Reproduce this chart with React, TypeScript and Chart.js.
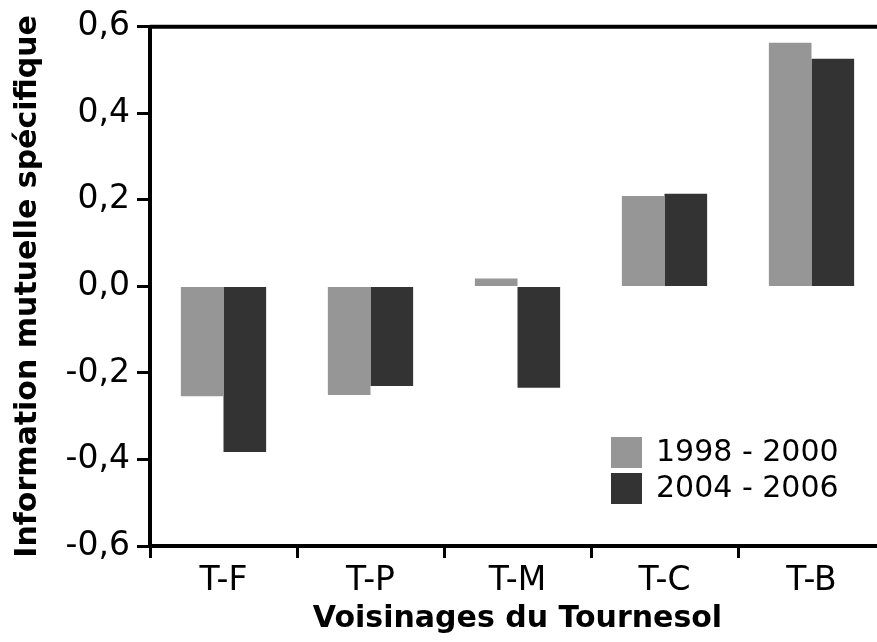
import React, { useEffect, useRef } from "react";
import { Chart, registerables } from "chart.js";

Chart.register(...registerables);

const categories = ["T-F", "T-P", "T-M", "T-C", "T-B"];
const series1998 = [-0.254, -0.251, 0.018, 0.209, 0.563];
const series2004 = [-0.383, -0.23, -0.234, 0.214, 0.526];
const seriesLabels = ["1998 - 2000", "2004 - 2006"];
const seriesColors = ["#969696", "#333333"];
const yMin = -0.6;
const yMax = 0.6;
const yStep = 0.2;
const xTitle = "Voisinages du Tournesol";
const yTitle = "Information mutuelle spécifique";

const FONT = "'DejaVu Sans', sans-serif";

const framePlugin = {
  id: "frame",
  afterDraw(chart: any) {
    const { ctx, chartArea } = chart;
    ctx.save();
    ctx.strokeStyle = "#000";
    ctx.lineWidth = 4;
    ctx.beginPath();
    ctx.moveTo(chartArea.left, chartArea.top);
    ctx.lineTo(chartArea.right, chartArea.top);
    ctx.stroke();
    const x0 = 611;
    const y0 = 437;
    const box = 31;
    const gap = 36;
    ctx.font = `30px ${FONT}`;
    ctx.textBaseline = "middle";
    ctx.textAlign = "left";
    chart.data.datasets.forEach((ds: any, i: number) => {
      const y = y0 + i * gap;
      ctx.fillStyle = ds.backgroundColor;
      ctx.fillRect(x0, y, box, box);
      ctx.fillStyle = "#000";
      ctx.fillText(ds.label, x0 + box + 14, y + box / 2 + 1);
    });
    ctx.restore();
  },
};

export default function App() {
  const ref = useRef<HTMLCanvasElement>(null);
  useEffect(() => {
    if (!ref.current) return;
    const chart = new Chart(ref.current, {
      type: "bar",
      data: {
        labels: categories,
        datasets: [
          {
            label: seriesLabels[0],
            data: series1998,
            backgroundColor: seriesColors[0],
            borderWidth: 0,
          },
          {
            label: seriesLabels[1],
            data: series2004,
            backgroundColor: seriesColors[1],
            borderWidth: 0,
          },
        ],
      },
      options: {
        responsive: false,
        animation: false,
        layout: { padding: { top: 25, right: 0, left: 0, bottom: 0 } },
        plugins: {
          legend: { display: false },
          tooltip: { enabled: false },
        },
        datasets: {
          bar: { categoryPercentage: 0.58, barPercentage: 1.0 },
        },
        scales: {
          x: {
            afterFit(scale: any) {
              scale.height = 96;
            },
            grid: {
              display: true,
              offset: true,
              drawOnChartArea: false,
              drawTicks: true,
              tickLength: 12,
              tickWidth: 3,
              color: "#000",
            },
            border: { display: true, color: "#000", width: 4 },
            ticks: {
              color: "#000",
              font: { family: FONT, size: 33 },
              padding: 4,
              maxRotation: 0,
            },
            title: {
              display: true,
              text: xTitle,
              color: "#000",
              font: { family: FONT, size: 30, weight: "bold", lineHeight: 1.2 },
              padding: { top: 0, bottom: 5 },
            },
          },
          y: {
            min: yMin,
            max: yMax,
            afterFit(scale: any) {
              scale.width = 150;
            },
            grid: {
              display: true,
              drawOnChartArea: false,
              drawTicks: true,
              tickLength: 13,
              tickWidth: 3,
              color: "#000",
            },
            border: { display: true, color: "#000", width: 4 },
            ticks: {
              stepSize: yStep,
              color: "#000",
              font: { family: FONT, size: 33 },
              padding: 7,
              callback: (v: any) => Number(v).toFixed(1).replace(".", ","),
            },
            title: {
              display: true,
              text: yTitle,
              color: "#000",
              font: { family: FONT, size: 30, weight: "bold", lineHeight: 1.2 },
              padding: { top: 10, bottom: 0 },
            },
          },
        },
      },
      plugins: [framePlugin],
    });
    return () => chart.destroy();
  }, []);
  return (
    <div
      style={{
        position: "absolute",
        left: 0,
        top: 0,
        width: 877,
        height: 642,
        overflow: "hidden",
        background: "#fff",
      }}
    >
      <canvas ref={ref} width={885} height={642} style={{ display: "block" }} />
    </div>
  );
}
